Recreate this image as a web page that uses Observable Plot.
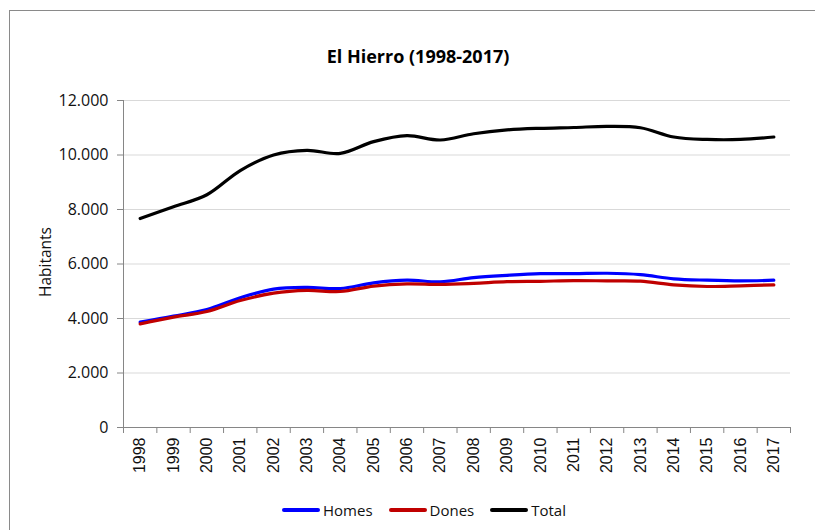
<!DOCTYPE html>
<html>
<head>
<meta charset="utf-8">
<script src="https://cdn.jsdelivr.net/npm/d3@7"></script>
<script src="https://cdn.jsdelivr.net/npm/@observablehq/plot@0.6"></script>
<style>
  body { margin: 0; background: #fff; }
  #chart { position: relative; width: 815px; height: 530px; overflow: hidden; font-family: "Open Sans", sans-serif; color: #111; }
  #frame { position: absolute; left: 9px; top: 10px; width: 900px; height: 700px; border: 1px solid #8a8a8a; }
  #plot { position: absolute; left: 0; top: 0; }
  #title { position: absolute; left: 0; width: 836px; top: 44px; line-height: 24px; text-align: center; font-weight: 700; font-size: 18px; color: #000; }
  #ylabel { position: absolute; left: 45px; top: 262px; transform: translate(-50%, -50%) rotate(-90deg); font-size: 15.5px; white-space: nowrap; }
  #legend { position: absolute; left: 282px; top: 499px; display: flex; gap: 16px; align-items: center; font-size: 15px; line-height: 22px; }
  .item { display: flex; align-items: center; }
  .swatch { width: 38px; height: 3.5px; margin-right: 3px; border-radius: 2px; }
  #plot svg g[aria-label="x-axis tick label"] text { font-family: "Liberation Sans", Arial, sans-serif; }
</style>
</head>
<body>
<div id="chart">
  <div id="frame"></div>
  <div id="plot"></div>
  <div id="title">El Hierro (1998-2017)</div>
  <div id="ylabel">Habitants</div>
  <div id="legend"></div>
</div>
<script>
// Population of El Hierro by sex, 1998–2017
const years = [1998, 1999, 2000, 2001, 2002, 2003, 2004, 2005, 2006, 2007,
               2008, 2009, 2010, 2011, 2012, 2013, 2014, 2015, 2016, 2017];
const homes = [3865, 4085, 4330, 4760, 5075, 5140, 5100, 5310, 5410, 5345,
               5500, 5585, 5645, 5645, 5660, 5610, 5455, 5405, 5380, 5405];
const dones = [3805, 4050, 4255, 4660, 4930, 5030, 4990, 5190, 5270, 5250,
               5290, 5350, 5365, 5390, 5380, 5370, 5235, 5175, 5200, 5235];
const total = [7670, 8100, 8540, 9430, 10000, 10170, 10060, 10490, 10710, 10550,
               10780, 10920, 10980, 11010, 11050, 11000, 10660, 10570, 10570, 10660];
const yTicks = [0, 2000, 4000, 6000, 8000, 10000, 12000];

const series = [
  {name: "Homes", values: homes, color: "#0000ff"},
  {name: "Dones", values: dones, color: "#c00000"},
  {name: "Total", values: total, color: "#000000"}
];

const rows = years.map((year, i) => ({year, homes: homes[i], dones: dones[i], total: total[i]}));
const boundaries = d3.range(years[0] - 0.5, years[years.length - 1] + 1, 1);
const fmt = d => d3.format(",")(d).replace(/,/g, ".");

const chart = Plot.plot({
  width: 815,
  height: 530,
  marginLeft: 123,
  marginRight: 25,
  marginTop: 100,
  marginBottom: 103,
  style: {fontFamily: "Open Sans, sans-serif", fontSize: "16px", color: "#111", background: "transparent"},
  x: {type: "linear", domain: [years[0] - 0.5, years[years.length - 1] + 0.5]},
  y: {domain: [0, 12000]},
  marks: [
    Plot.gridY(yTicks.slice(1), {stroke: "#d9d9d9", strokeOpacity: 1, strokeWidth: 1}),
    Plot.axisY(yTicks, {tickSize: 6, tickPadding: 9, tickFormat: fmt, stroke: "#868686", label: null, fontSize: 16}),
    Plot.ruleX([years[0] - 0.5], {stroke: "#868686"}),
    Plot.ruleY([0], {stroke: "#868686"}),
    Plot.axisX(boundaries, {tickSize: 6, tickFormat: () => "", stroke: "#868686", label: null}),
    Plot.axisX(years, {tickSize: 0, tickPadding: 10, tickRotate: -90, tickFormat: d => String(d), label: null,
                       fontSize: 16}),
    ...series.map(s => Plot.line(rows, {
      x: "year", y: s.name.toLowerCase(), stroke: s.color, strokeWidth: 3.2, curve: "catmull-rom"
    }))
  ]
});
document.getElementById("plot").appendChild(chart);

const legend = document.getElementById("legend");
for (const s of series) {
  const item = document.createElement("div");
  item.className = "item";
  const sw = document.createElement("span");
  sw.className = "swatch";
  sw.style.background = s.color;
  const label = document.createElement("span");
  label.textContent = s.name;
  item.append(sw, label);
  legend.append(item);
}
</script>
</body>
</html>
